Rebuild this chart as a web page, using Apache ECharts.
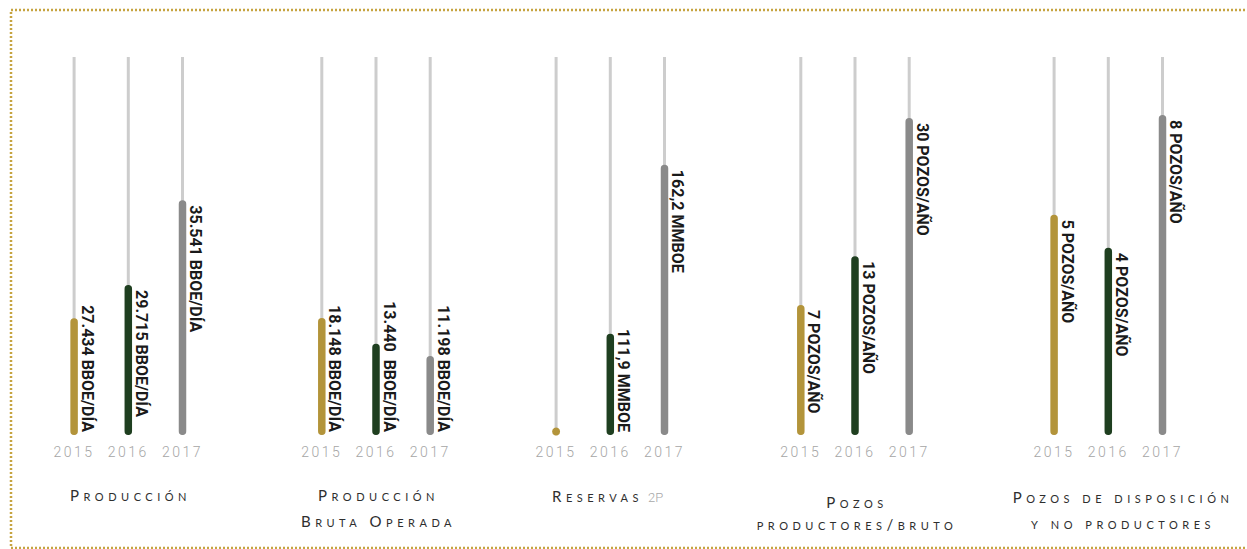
<!DOCTYPE html>
<html><head><meta charset="utf-8">
<script src="https://cdn.jsdelivr.net/npm/echarts@6/dist/echarts.min.js"></script>
<style>
html,body{margin:0;padding:0;background:#fff;}
#chart{width:1247px;height:549px;}
#chart text[style*="Lato"]{font-variant:small-caps !important;letter-spacing:4.5px;}
#chart text[style*="Arial"]{letter-spacing:2.5px;}
</style></head><body><div id="chart"></div>
<script>
// ---- data ----
const years = ['2015', '2016', '2017'];
const produccion = [27434, 29715, 35541];
const produccionLabels = ['27.434 BBOE/DÍA', '29.715 BBOE/DÍA', '35.541 BBOE/DÍA'];
const produccionBruta = [18148, 13440, 11198];
const produccionBrutaLabels = ['18.148 BBOE/DÍA', '13.440  BBOE/DÍA', '11.198 BBOE/DÍA'];
const reservas = [null, 111.9, 162.2];
const reservasLabels = ['', '111,9 MMBOE', '162,2 MMBOE'];
const pozosProductores = [7, 13, 30];
const pozosProductoresLabels = ['7 POZOS/AÑO', '13 POZOS/AÑO', '30 POZOS/AÑO'];
const pozosDisposicion = [5, 4, 8];
const pozosDisposicionLabels = ['5 POZOS/AÑO', '4 POZOS/AÑO', '8 POZOS/AÑO'];
const titles = ['Producción', 'Producción\nBruta Operada', 'Reservas', 'Pozos\nproductores/bruto', 'Pozos de disposición\ny no productores'];
const titleNotes = ['', '', '2P', '', ''];

// ---- layout / style ----
const COLORS = ['#b3943a', '#1f3f20', '#8a8a8a'];
const TRACK = '#cdcdcd';
const LABEL_FONT = 'bold 16px Roboto';
const groups = [
  {values: produccion, labels: produccionLabels, center: 128.3, min: 19400, max: 45400},
  {values: produccionBruta, labels: produccionBrutaLabels, center: 376, min: -3300, max: 66000},
  {values: reservas, labels: reservasLabels, center: 610.3, min: 81.8, max: 194.3},
  {values: pozosProductores, labels: pozosProductoresLabels, center: 855, min: -9.0, max: 37.5},
  {values: pozosDisposicion, labels: pozosDisposicionLabels, center: 1108.3, min: -1.64, max: 9.75}
];
const BAND = 54.2, GRID_TOP = 57, GRID_BOTTOM = 114;

const measureCtx = document.createElement('canvas').getContext('2d');
function textWidth(t, font) { measureCtx.font = font; return measureCtx.measureText(t).width; }

function makeRender(g) {
  return function (params, api) {
    const idx = params.dataIndex;
    const xi = api.value(0);
    const v = api.value(1);
    const base = api.coord([xi, g.min]);
    const top = api.coord([xi, g.max]);
    const cx = base[0];
    const children = [{
      type: 'rect',
      shape: {x: cx - 1.5, y: top[1], width: 3, height: base[1] - top[1]},
      style: {fill: TRACK}
    }];
    if (v == null || isNaN(v)) {
      children.push({type: 'circle', shape: {cx: cx, cy: base[1] - 3.5, r: 4}, style: {fill: COLORS[idx]}});
    } else {
      const p = api.coord([xi, v]);
      children.push({
        type: 'rect',
        shape: {x: cx - 3.75, y: p[1], width: 7.5, height: base[1] - p[1], r: 3.75},
        style: {fill: COLORS[idx]}
      });
      const txt = g.labels[idx];
      if (txt) {
        const w = textWidth(txt, LABEL_FONT);
        let y = p[1] + 5, align = 'left';
        if (y + w > base[1] - 3) { y = base[1] - 3; align = 'right'; }
        children.push({
          type: 'text', x: cx + 13, y: y, rotation: -Math.PI / 2,
          style: {text: txt, fill: '#1a1a1a', font: LABEL_FONT, align: align, verticalAlign: 'middle'}
        });
      }
    }
    return {type: 'group', children: children};
  };
}

const grid = [], xAxis = [], yAxis = [], series = [];
groups.forEach((g, i) => {
  grid.push({left: g.center - 1.5 * BAND, width: 3 * BAND, top: GRID_TOP, bottom: GRID_BOTTOM});
  xAxis.push({
    type: 'category', gridIndex: i, data: years,
    axisLine: {show: false}, axisTick: {show: false}, splitLine: {show: false},
    axisLabel: {color: '#a6a6a6', fontFamily: 'Roboto, Arial', fontWeight: 300, fontSize: 14, margin: 10}
  });
  yAxis.push({type: 'value', gridIndex: i, min: g.min, max: g.max, show: false, splitLine: {show: false}});
  series.push({
    type: 'custom', xAxisIndex: i, yAxisIndex: i, clip: false,
    renderItem: makeRender(g),
    data: g.values.map((v, j) => [j, v])
  });
});

// titles
const titleX = [130.5, 378.5, 552, 857, 1123];
const titleY = [495, 495, 496, 502, 497];
const titleLH = [26, 26, 26, 22, 26];
const graphic = [{
  type: 'rect', silent: true,
  shape: {x: 11, y: 10, width: 1260, height: 538},
  style: {fill: 'none', stroke: '#c6a441', lineWidth: 2.5, lineDash: [2, 2]}
}];
titles.forEach((t, i) => {
  const lines = t.split('\n').length;
  graphic.push({
    type: 'text', silent: true,
    x: titleX[i], y: titleY[i] + (lines - 1) * titleLH[i] / 2,
    style: {
      text: t, fill: '#2e2e2e', font: '400 15px Lato',
      align: titleNotes[i] ? 'left' : 'center', verticalAlign: 'middle', lineHeight: titleLH[i]
    }
  });
  if (titleNotes[i]) {
    graphic.push({
      type: 'text', silent: true, x: 648, y: titleY[i] + 1,
      style: {text: titleNotes[i], fill: '#a8a8a8', font: '300 13px Roboto', align: 'left', verticalAlign: 'middle'}
    });
  }
});

const chart = echarts.init(document.getElementById('chart'), null, {renderer: 'svg'});
chart.setOption({
  animation: false,
  backgroundColor: '#ffffff',
  grid: grid, xAxis: xAxis, yAxis: yAxis, series: series, graphic: graphic
});
</script></body></html>
